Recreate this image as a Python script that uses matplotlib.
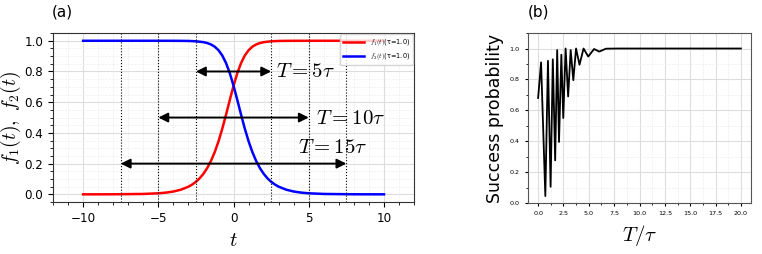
import matplotlib
matplotlib.use("Agg")
import matplotlib.pyplot as plt
from matplotlib.ticker import AutoMinorLocator, MultipleLocator

plt.rcParams["mathtext.fontset"] = "cm"

# ---- Panel (a) data: pulse envelopes ----
t_vals = [-10, -8, -6, -5, -4.5, -4, -3.5, -3, -2.75, -2.5, -2.25, -2, -1.75, -1.5,
          -1.25, -1, -0.75, -0.5, -0.25, 0, 0.25, 0.5, 0.75, 1, 1.25, 1.5, 1.75,
          2, 2.5, 3, 3.5, 4, 5, 6, 8, 10]
f1_vals = [0.0000, 0.0003, 0.0025, 0.0067, 0.0111, 0.0183, 0.0302, 0.0497, 0.0638,
           0.0818, 0.1048, 0.1341, 0.1712, 0.2178, 0.2754, 0.3453, 0.4271, 0.5186,
           0.6144, 0.7071, 0.7890, 0.8550, 0.9042, 0.9385, 0.9613, 0.9760, 0.9852,
           0.9910, 0.9966, 0.9988, 0.9995, 0.9998, 1.0, 1.0, 1.0, 1.0]
f2_vals = [1.0, 1.0, 1.0, 1.0, 0.9998, 0.9995, 0.9988, 0.9966, 0.9910, 0.9852, 0.9760,
           0.9613, 0.9385, 0.9042, 0.8550, 0.7890, 0.7071, 0.6144, 0.5186, 0.4271,
           0.3453, 0.2754, 0.2178, 0.1712, 0.1341, 0.1048, 0.0818, 0.0638, 0.0497,
           0.0302, 0.0183, 0.0111, 0.0067, 0.0025, 0.0003, 0.0000]
t2_vals = [-10, -8, -6, -5, -4, -3.5, -3, -2.5, -2, -1.75, -1.5, -1.25, -1, -0.75,
           -0.5, -0.25, 0, 0.25, 0.5, 0.75, 1, 1.25, 1.5, 1.75, 2, 2.25, 2.5, 2.75,
           3, 3.5, 4, 4.5, 5, 6, 8, 10]
vlines_t = [-7.5, -5, -2.5, 2.5, 5, 7.5]
arrow_half = [2.5, 5, 7.5]
arrow_y = [0.8, 0.5, 0.2]
arrow_labels = [r"$T=5\tau$", r"$T=10\tau$", r"$T=15\tau$"]
label_xy = [(2.8, 0.8), (5.5, 0.5), (4.3, 0.31)]

# ---- Panel (b) data: success probability vs T/tau ----
T_vals = [0.0, 0.29, 0.71, 0.97, 1.23, 1.45, 1.68, 1.88, 2.06, 2.29, 2.48, 2.71,
          2.96, 3.21, 3.47, 3.74, 4.08, 4.48, 4.94, 5.52, 6.02, 6.7, 8.0, 10.0,
          15.0, 20.0]
P_vals = [0.68, 0.91, 0.045, 0.92, 0.105, 0.93, 0.276, 0.99, 0.395, 0.96, 0.55,
          1.0, 0.69, 0.99, 0.795, 1.0, 0.895, 1.0, 0.948, 0.997, 0.98, 0.999,
          1.0, 1.0, 1.0, 1.0]

fig = plt.figure(figsize=(7.62, 2.54), dpi=100)
axa = fig.add_axes([0.0696, 0.2047, 0.4738, 0.665])
axb = fig.add_axes([0.6929, 0.2008, 0.2927, 0.669])

# Panel (a)
axa.plot(t_vals, f1_vals, color="#ff0000", lw=1.8, label=r"$f_1(t)$(τ=1.0)")
axa.plot(t2_vals, f2_vals, color="#0000ff", lw=1.8, label=r"$f_2(t)$(τ=1.0)")
for v in vlines_t:
    axa.axvline(v, color="black", ls=":", lw=0.8)
for h, y in zip(arrow_half, arrow_y):
    axa.annotate("", xy=(h, y), xytext=(-h, y),
                 arrowprops=dict(arrowstyle="<|-|>", color="black", lw=1.4,
                                 mutation_scale=14, shrinkA=0, shrinkB=0))
for (lx, ly), lab in zip(label_xy, arrow_labels):
    axa.text(lx, ly, lab, fontsize=15, va="center", ha="left")
axa.set_xlim(-12, 12)
axa.set_ylim(-0.05, 1.05)
axa.set_xticks([-10, -5, 0, 5, 10])
axa.set_yticks([0, 0.2, 0.4, 0.6, 0.8, 1.0])
axa.xaxis.set_minor_locator(MultipleLocator(1))
axa.yaxis.set_minor_locator(MultipleLocator(0.05))
axa.tick_params(labelsize=8.6)
axa.grid(which="major", color="#dddddd", lw=0.8)
axa.grid(which="minor", color="#eeeeee", lw=0.5, ls="--")
axa.set_axisbelow(True)
axa.set_xlabel(r"$t$", fontsize=15, labelpad=4)
axa.set_ylabel(r"$f_1(t),\ f_2(t)$", fontsize=14, labelpad=1)
leg = axa.legend(loc="upper right", fontsize=4.8, borderaxespad=0.2,
                 handlelength=3.2)
for sp in axa.spines.values():
    sp.set_color("#333333")

# Panel (b)
axb.plot(T_vals, P_vals, color="black", lw=1.3)
axb.set_xlim(-1, 21)
axb.set_ylim(0, 1.1)
axb.set_xticks([0, 2.5, 5, 7.5, 10, 12.5, 15, 17.5, 20])
axb.set_yticks([0, 0.2, 0.4, 0.6, 0.8, 1.0])
axb.xaxis.set_minor_locator(AutoMinorLocator(2))
axb.yaxis.set_minor_locator(AutoMinorLocator(2))
axb.tick_params(labelsize=4.6, length=2.5)
axb.tick_params(which="minor", length=1.5)
axb.grid(which="major", color="#dddddd", lw=0.8)
axb.grid(which="minor", color="#eeeeee", lw=0.5, ls="--")
axb.set_axisbelow(True)
axb.set_xlabel(r"$T/\tau$", fontsize=15, labelpad=5)
axb.set_ylabel("Success probability", fontsize=12.5)
for sp in axb.spines.values():
    sp.set_color("#555555")

fig.text(0.068, 0.953, "(a)", fontsize=11, va="center", ha="left")
fig.text(0.692, 0.953, "(b)", fontsize=11, va="center", ha="left")

fig.savefig("out.png", dpi=100)
